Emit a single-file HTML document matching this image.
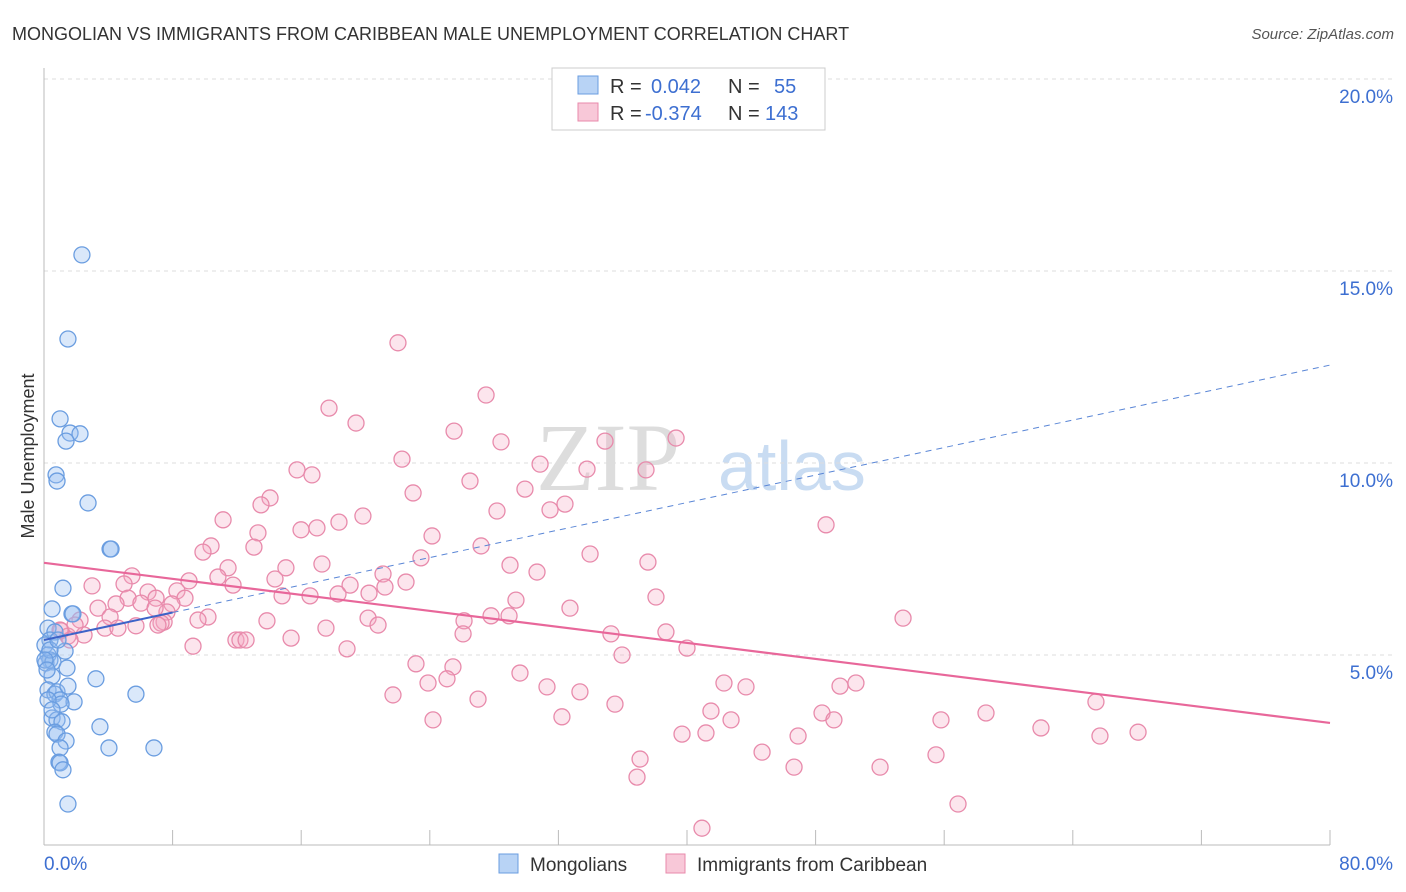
<!DOCTYPE html>
<html><head><meta charset="utf-8"><style>
body{margin:0;background:#fff;font-family:"Liberation Sans",sans-serif;}
#wrap{position:relative;width:1406px;height:892px;overflow:hidden;}
</style></head><body>
<div id="wrap">
<svg id="svg" width="1406" height="892" xmlns="http://www.w3.org/2000/svg">
<text x="12" y="40" font-size="18" fill="#333">MONGOLIAN VS IMMIGRANTS FROM CARIBBEAN MALE UNEMPLOYMENT CORRELATION CHART</text>
<text x="1394" y="39" font-size="15" fill="#555" font-style="italic" text-anchor="end">Source: ZipAtlas.com</text>
<text x="34" y="456" font-size="18" fill="#333" text-anchor="middle" transform="rotate(-90 34 456)">Male Unemployment</text>
<text x="680" y="490" font-size="96" fill="#ddd" font-family="Liberation Serif,serif" text-anchor="end">ZIP</text>
<text x="718" y="490" font-size="70" fill="#c9dcf2">atlas</text>
<g id="grid"></g><g id="pts"></g><g id="lines"></g>
<g>
<rect x="552" y="68" width="273" height="62" fill="#fff" stroke="#ccc"/>
<rect x="578" y="76" width="20" height="18" fill="#b8d3f5" stroke="#6a9de0"/>
<text x="610" y="93" font-size="20" fill="#333">R = </text><text x="651" y="93" font-size="20" fill="#3d6fd1">0.042</text>
<text x="728" y="93" font-size="20" fill="#333">N = </text><text x="774" y="93" font-size="20" fill="#3d6fd1">55</text>
<rect x="578" y="103" width="20" height="18" fill="#f8c8d8" stroke="#e88aab"/>
<text x="610" y="120" font-size="20" fill="#333">R = </text><text x="645" y="120" font-size="20" fill="#3d6fd1">-0.374</text>
<text x="728" y="120" font-size="20" fill="#333">N = </text><text x="765" y="120" font-size="20" fill="#3d6fd1">143</text>
</g>
<g>
<rect x="499" y="854" width="19" height="19" fill="#b8d3f5" stroke="#6a9de0"/>
<text x="530" y="871" font-size="19" fill="#333">Mongolians</text>
<rect x="666" y="854" width="19" height="19" fill="#f8c8d8" stroke="#e88aab"/>
<text x="697" y="871" font-size="19" fill="#333">Immigrants from Caribbean</text>
</g>
</svg></div>
<script>
const yTicks=[5,10,15,20];
const yTickLabels=["5.0%","10.0%","15.0%","20.0%"];
const xTickLabels=["0.0%","80.0%"];
const blueX=[2.36,1.49,1.00,1.62,2.24,1.37,0.75,0.81,2.74,4.11,4.17,1.18,0.50,1.74,1.80,0.25,0.68,0.37,0.06,1.31,0.25,0.37,0.12,0.56,1.43,0.50,3.23,0.25,0.68,0.81,1.49,1.00,1.87,1.06,5.72,0.50,0.81,1.12,3.48,0.68,0.81,1.37,1.00,4.04,6.84,0.93,1.00,1.18,1.49,0.25,0.50,0.37,0.06,0.87,0.19];
const blueY=[15.42,13.23,11.15,10.78,10.76,10.57,9.69,9.53,8.96,7.76,7.76,6.74,6.20,6.07,6.07,5.70,5.60,5.39,5.26,5.10,5.00,4.87,4.79,4.82,4.66,4.45,4.38,4.09,3.98,4.04,4.19,3.83,3.78,3.72,3.98,3.36,3.31,3.26,3.13,2.99,2.94,2.76,2.58,2.58,2.58,2.21,2.19,2.01,1.12,3.83,3.57,5.13,4.87,5.39,4.61];
const pinkX=[22.02,27.50,17.73,19.41,25.51,34.90,39.32,28.43,22.27,15.74,16.67,30.86,26.50,37.45,33.78,29.92,22.96,14.06,13.50,32.41,31.48,28.18,19.84,18.35,11.14,15.99,16.98,13.31,24.14,48.65,10.39,13.06,9.89,27.19,33.97,23.45,37.57,17.29,11.45,15.05,5.47,9.02,28.99,30.67,21.09,2.99,4.98,10.82,14.37,22.52,11.76,19.04,6.47,8.27,20.22,21.21,5.23,6.97,8.77,18.29,16.55,14.81,29.36,38.07,7.96,6.03,4.48,3.36,7.65,6.91,32.72,4.11,10.20,9.58,13.87,20.16,20.78,26.13,27.81,28.93,53.44,2.24,7.47,7.28,7.09,3.79,4.60,5.72,17.54,1.06,1.49,2.49,26.07,35.27,38.69,15.37,11.94,12.19,12.57,9.27,18.85,40.00,35.96,23.14,25.44,23.89,25.07,29.61,31.29,33.34,21.71,27.00,42.30,43.67,49.52,50.51,35.52,41.49,24.20,32.22,42.74,48.40,49.14,55.80,58.60,65.44,62.02,65.69,68.06,41.18,39.69,46.91,37.08,44.67,55.49,46.66,52.01,36.89,56.86,40.93,1.62,1.00,1.93];
const pinkY=[13.13,11.77,11.43,11.04,10.83,10.57,10.65,10.55,10.10,9.82,9.69,9.97,9.53,9.82,9.84,9.32,9.22,9.09,8.91,8.93,8.78,8.75,8.62,8.46,8.52,8.26,8.31,8.18,8.10,8.39,7.84,7.81,7.68,7.84,7.63,7.53,7.42,7.37,7.27,7.27,7.06,6.93,7.34,7.16,7.11,6.80,6.85,7.03,6.98,6.90,6.82,6.82,6.64,6.67,6.61,6.77,6.48,6.48,6.48,6.59,6.54,6.54,6.43,6.51,6.33,6.35,6.33,6.22,6.12,6.22,6.22,5.99,5.99,5.91,5.89,5.96,5.78,5.89,6.02,6.02,5.96,5.91,5.86,5.83,5.78,5.70,5.70,5.76,5.70,5.63,5.49,5.52,5.55,5.55,5.60,5.44,5.39,5.39,5.39,5.23,5.16,5.18,5.00,4.77,4.69,4.27,4.38,4.53,4.17,4.04,3.96,3.85,4.27,4.17,4.19,4.27,3.72,3.54,3.31,3.39,3.31,3.49,3.31,3.31,3.49,3.78,3.10,2.89,2.99,2.97,2.94,2.89,2.29,2.47,2.40,2.08,2.08,1.82,1.12,0.49,5.39,5.65,5.78];
const blueTrend=[5.39,12.55];
const pinkTrend=[7.40,3.23];
const NS="http://www.w3.org/2000/svg";
const X0=44,X1=1330,Y0=847,YP=38.4;
function sx(v){return X0+v*(X1-X0)/80;}
function sy(v){return Y0-v*YP;}
function mk(t,a,p){const e=document.createElementNS(NS,t);for(const k in a)e.setAttribute(k,a[k]);p.appendChild(e);return e;}
const grid=document.getElementById('grid');
yTicks.forEach((t,i)=>{
 const l=mk('line',{x1:X0,x2:1394,y1:sy(t),y2:sy(t),stroke:'#ddd','stroke-dasharray':'4,4'},grid);
 
 
 const tx=mk('text',{x:1393,y:sy(t)+24,'font-size':19,fill:'#3d6fd1','text-anchor':'end'},grid);
 tx.textContent=yTickLabels[i];
 
 
});
let ax=mk('line',{x1:X0,x2:X1,y1:845,y2:845,stroke:'#bbb'},grid);


let ay=mk('line',{x1:X0,x2:X0,y1:68,y2:845,stroke:'#bbb'},grid);


for(let i=0;i<=10;i++){const v=i*8;const tk=mk('line',{x1:sx(v),x2:sx(v),y1:830,y2:845,stroke:'#bbb'},grid);
 
 }
[[0,'start',44],[80,'end',1393]].forEach((d,i)=>{const t=mk('text',{x:d[2],y:870,'font-size':19,fill:'#3d6fd1','text-anchor':d[1]},grid);t.textContent=xTickLabels[i];
 
 });
const pts=document.getElementById('pts');
pinkX.forEach((x,i)=>{const c=mk('circle',{cx:sx(x),cy:sy(pinkY[i]),r:8,fill:'rgba(245,170,195,0.3)',stroke:'#e88aab','stroke-width':1.3},pts);
 
 });
blueX.forEach((x,i)=>{const c=mk('circle',{cx:sx(x),cy:sy(blueY[i]),r:8,fill:'rgba(150,190,240,0.35)',stroke:'#6a9de0','stroke-width':1.3},pts);
 
 });
const lines=document.getElementById('lines');
const bAt=v=>blueTrend[0]+(blueTrend[1]-blueTrend[0])*v/80;
let l1=mk('line',{x1:sx(0),y1:sy(bAt(0)),x2:sx(8),y2:sy(bAt(8)),stroke:'#3d63c8','stroke-width':2},lines);


let l2=mk('line',{x1:sx(8),y1:sy(bAt(8)),x2:sx(80),y2:sy(bAt(80)),stroke:'#5a86d6','stroke-width':1,'stroke-dasharray':'6,5'},lines);


let l3=mk('line',{x1:sx(0),y1:sy(pinkTrend[0]),x2:sx(80),y2:sy(pinkTrend[1]),stroke:'#e8679a','stroke-width':2.2},lines);


</script>
</body></html>
